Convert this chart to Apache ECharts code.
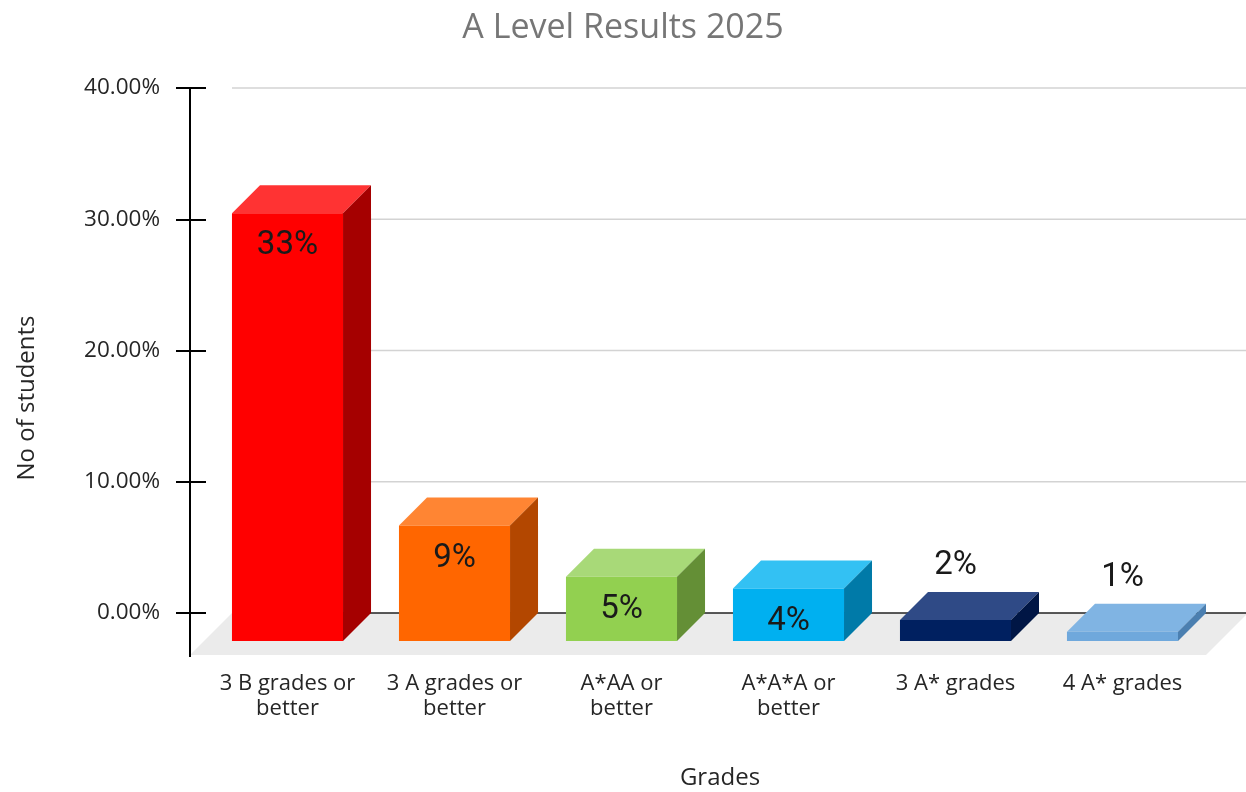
<!DOCTYPE html>
<html><head><meta charset="utf-8">
<script src="https://cdn.jsdelivr.net/npm/echarts@6/dist/echarts.min.js"></script>
<style>html,body{margin:0;padding:0;background:#fff}#c{width:1246px;height:792px}</style>
</head><body><div id="c"></div>
<script>
// ---- data ----
const categories = ['3 B grades or\nbetter', '3 A grades or\nbetter', 'A*AA or\nbetter', 'A*A*A or\nbetter', '3 A* grades', '4 A* grades'];
const values = [32.6, 8.8, 4.9, 4.0, 1.6, 0.7];
const labels = ['33%', '9%', '5%', '4%', '2%', '1%'];
const yMin = 0, yMax = 40, yStep = 10;
const gridValues = [10, 20, 30, 40];

// ---- styles ----
const frontColors = ['#ff0000', '#ff6600', '#92d050', '#00b0f0', '#002060', '#6fa8dc'];
const topColors   = ['#ff3333', '#ff8533', '#a8d978', '#33c1f3', '#2f4a86', '#80b4e3'];
const sideColors  = ['#a50000', '#b34700', '#648f36', '#007aa8', '#001645', '#4b7fb0'];
const DEPTH = 28;      // bar depth (px, oblique)
const FRONT = 14;      // floor in front of bars
const BACK = 28;       // wall behind bars
const EXTRA = 14;      // floor / wall extension to the right
const FONT = '"Open Sans", "Noto Sans", sans-serif';

const chart = echarts.init(document.getElementById('c'));

function renderFrame(params, api) {
  const cs = params.coordSys;
  const y0 = api.coord([0, 0])[1];
  const left = cs.x, right = cs.x + cs.width + EXTRA;
  const children = [];
  gridValues.forEach(v => {
    const y = api.coord([0, v])[1] - BACK;
    children.push({type: 'line', shape: {x1: left + BACK, y1: y, x2: right + BACK, y2: y},
      style: {stroke: '#d3d3d3', lineWidth: 1.6}});
  });
  children.push({type: 'polygon', shape: {points: [
    [left - FRONT, y0 + FRONT], [right - FRONT, y0 + FRONT],
    [right + BACK, y0 - BACK], [left + BACK, y0 - BACK]]},
    style: {fill: '#ebebeb'}});
  children.push({type: 'line', shape: {x1: left + BACK, y1: y0 - BACK, x2: right + BACK, y2: y0 - BACK},
    style: {stroke: '#222', lineWidth: 1.5}});
  children.push({type: 'line', shape: {x1: left - FRONT, y1: y0 - BACK, x2: left - FRONT, y2: y0 + FRONT + 2},
    style: {stroke: '#000', lineWidth: 2}});
  return {type: 'group', children};
}

function renderBar(params, api) {
  const i = api.value(0), v = api.value(1);
  const base = api.coord([i, 0]);
  const topP = api.coord([i, v]);
  const band = api.size([1, 0])[0];
  const bw = band * 0.665;
  const cx = base[0], y0 = base[1], yt = topP[1];
  const xl = cx - bw / 2, xr = cx + bw / 2, D = DEPTH;
  const children = [
    {type: 'polygon', shape: {points: [[xl, yt], [xr, yt], [xr + D, yt - D], [xl + D, yt - D]]}, style: {fill: topColors[i]}},
    {type: 'polygon', shape: {points: [[xr, yt], [xr + D, yt - D], [xr + D, y0 - D], [xr, y0]]}, style: {fill: sideColors[i]}},
    {type: 'rect', shape: {x: xl, y: yt, width: bw, height: y0 - yt}, style: {fill: frontColors[i]}}
  ];
  const inside = v > 3;
  children.push({type: 'text', style: {
    text: labels[i], x: cx, y: inside ? yt + 33 : yt - D - 26,
    align: 'center', verticalAlign: 'middle',
    font: '33px Roboto, "Liberation Sans", sans-serif', fill: '#1a1a1a'}});
  return {type: 'group', children};
}

chart.setOption({
  animation: false,
  backgroundColor: '#fff',
  title: {text: 'A Level Results 2025', left: 'center', top: 6,
    textStyle: {fontFamily: FONT, fontSize: 34, fontWeight: 'normal', color: '#767676'}},
  grid: [
    {left: 190, right: 40, top: 88, bottom: 179},
    {left: 204, right: 40, top: 116, bottom: 151}
  ],
  xAxis: [
    {gridIndex: 0, type: 'value', show: false},
    {gridIndex: 1, type: 'category', data: categories,
      axisLine: {show: false}, axisTick: {show: false}, splitLine: {show: false},
      axisLabel: {margin: 30, interval: 0, fontFamily: FONT, fontSize: 22, lineHeight: 25, color: '#262626'}}
  ],
  yAxis: [
    {gridIndex: 0, type: 'value', min: yMin, max: yMax, interval: yStep, position: 'left',
      axisLine: {show: true, lineStyle: {color: '#000', width: 2}},
      axisTick: {show: true, length: 14, lineStyle: {color: '#000', width: 2}},
      splitLine: {show: false},
      axisLabel: {margin: 30, fontFamily: FONT, fontSize: 22.5, color: '#262626',
        formatter: v => v.toFixed(2) + '%'}},
    {gridIndex: 0, type: 'value', min: yMin, max: yMax, interval: yStep, position: 'left',
      axisLine: {show: false},
      axisTick: {show: true, inside: true, length: 16, lineStyle: {color: '#000', width: 2}},
      splitLine: {show: false}, axisLabel: {show: false}},
    {gridIndex: 1, type: 'value', min: yMin, max: yMax, interval: yStep, show: false}
  ],
  graphic: [
    {type: 'text', x: 720, y: 778, style: {text: 'Grades', font: '24px ' + FONT, fill: '#262626', align: 'center', verticalAlign: 'middle'}},
    {type: 'text', x: 27, y: 398, rotation: Math.PI / 2,
      style: {text: 'No of students', font: '24px ' + FONT, fill: '#262626', align: 'center', verticalAlign: 'middle'}}
  ],
  series: [
    {type: 'custom', xAxisIndex: 1, yAxisIndex: 2, clip: false, z: 1,
      data: [[0, 0]], renderItem: renderFrame, silent: true},
    {type: 'custom', xAxisIndex: 1, yAxisIndex: 2, clip: false, z: 2,
      data: values.map((v, i) => [i, v]), encode: {x: 0, y: 1}, renderItem: renderBar}
  ]
});
</script></body></html>
